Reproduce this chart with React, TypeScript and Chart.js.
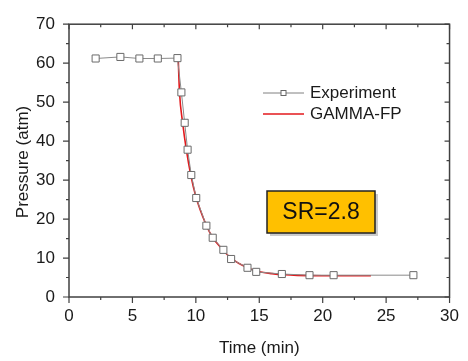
import React, { useEffect, useRef } from "react";
import { Chart, registerables } from "chart.js";

Chart.register(...registerables);

const expTime = [2.1, 4.05, 5.55, 7.0, 8.55, 8.86, 9.12, 9.35, 9.64, 10.03, 10.83, 11.33, 12.17, 12.78, 14.07, 14.76, 16.78, 18.96, 20.86, 27.15];
const expPressure = [61.2, 61.6, 61.2, 61.2, 61.3, 52.5, 44.7, 37.8, 31.3, 25.4, 18.3, 15.2, 12.1, 9.75, 7.5, 6.45, 5.9, 5.6, 5.6, 5.6];

const fitTime = [8.62, 8.71, 8.96, 9.25, 9.6, 10.0, 10.8, 11.3, 12.1, 12.8, 14.0, 15.0, 16.0, 17.0, 18.0, 20.0, 22.0, 23.8];
const fitPressure = [60.3, 52.6, 44.7, 37.8, 31.3, 25.8, 18.6, 15.4, 12.2, 9.9, 7.6, 6.5, 6.0, 5.7, 5.55, 5.45, 5.45, 5.45];

const xTicks = [0, 5, 10, 15, 20, 25, 30];
const yTicks = [0, 10, 20, 30, 40, 50, 60, 70];
const xMinorTicks = [2.5, 7.5, 12.5, 17.5, 22.5, 27.5];
const yMinorTicks = [5, 15, 25, 35, 45, 55, 65];

const seriesNames = ["Experiment", "GAMMA-FP"];
const annotationText = "SR=2.8";
const xTitle = "Time (min)";
const yTitle = "Pressure (atm)";

const FONT = "'Liberation Sans', Arial, sans-serif";
const AXIS_COLOR = "#404040";

const framePlugin = {
  id: "frameAndDecor",
  afterDraw(chart: any) {
    const { ctx, chartArea } = chart;
    const xs = chart.scales.x;
    const ys = chart.scales.y;
    const { left, right, top, bottom } = chartArea;
    ctx.save();
    ctx.strokeStyle = AXIS_COLOR;
    ctx.lineWidth = 1.5;
    ctx.strokeRect(left, top, right - left, bottom - top);
    ctx.lineWidth = 1.2;
    ctx.beginPath();
    const tickX = (v: number, len: number, inLen: number) => {
      const px = xs.getPixelForValue(v);
      ctx.moveTo(px, bottom);
      ctx.lineTo(px, bottom + len);
      ctx.moveTo(px, top);
      ctx.lineTo(px, top + inLen);
    };
    const tickY = (v: number, len: number, inLen: number) => {
      const py = ys.getPixelForValue(v);
      ctx.moveTo(left, py);
      ctx.lineTo(left - len, py);
      ctx.moveTo(right, py);
      ctx.lineTo(right - inLen, py);
    };
    xTicks.forEach((v) => tickX(v, 6, 5));
    xMinorTicks.forEach((v) => tickX(v, 3, 3));
    yTicks.forEach((v) => tickY(v, 6, 5));
    yMinorTicks.forEach((v) => tickY(v, 3, 3));
    ctx.stroke();

    // y axis title
    ctx.save();
    ctx.translate(23, 162);
    ctx.rotate(-Math.PI / 2);
    ctx.fillStyle = "#1a1a1a";
    ctx.font = `17px ${FONT}`;
    ctx.textAlign = "center";
    ctx.textBaseline = "middle";
    ctx.fillText(yTitle, 0, 0);
    ctx.restore();

    // legend
    const lx0 = 263, lx1 = 304, tx = 310;
    const ly = [93, 114];
    ctx.lineWidth = 1;
    ctx.strokeStyle = "#808080";
    ctx.beginPath();
    ctx.moveTo(lx0, ly[0]);
    ctx.lineTo(lx1, ly[0]);
    ctx.stroke();
    ctx.fillStyle = "#ffffff";
    ctx.strokeStyle = "#666666";
    ctx.fillRect(283.5 - 2.5, ly[0] - 2.5, 5, 5);
    ctx.strokeRect(283.5 - 2.5, ly[0] - 2.5, 5, 5);
    ctx.strokeStyle = "#e3191c";
    ctx.lineWidth = 1.6;
    ctx.beginPath();
    ctx.moveTo(lx0, ly[1]);
    ctx.lineTo(lx1, ly[1]);
    ctx.stroke();
    ctx.fillStyle = "#1a1a1a";
    ctx.font = `17px ${FONT}`;
    ctx.textBaseline = "middle";
    ctx.textAlign = "left";
    ctx.fillText(seriesNames[0], tx, ly[0]);
    ctx.fillText(seriesNames[1], tx, ly[1]);

    // SR annotation box
    const bx = 267, by = 191, bw = 108, bh = 42;
    ctx.fillStyle = "rgba(140,140,140,0.45)";
    ctx.fillRect(bx + 3, by + 3, bw, bh);
    ctx.fillStyle = "#FFC000";
    ctx.fillRect(bx, by, bw, bh);
    ctx.strokeStyle = "#222222";
    ctx.lineWidth = 1.5;
    ctx.strokeRect(bx, by, bw, bh);
    ctx.fillStyle = "#111111";
    ctx.font = `23px ${FONT}`;
    ctx.textAlign = "center";
    ctx.textBaseline = "middle";
    ctx.fillText(annotationText, bx + bw / 2, by + bh / 2 + 1);
    ctx.restore();
  },
};

export default function App() {
  const ref = useRef<HTMLCanvasElement | null>(null);
  useEffect(() => {
    if (!ref.current) return;
    const chart = new Chart(ref.current, {
      type: "scatter",
      data: {
        datasets: [
          {
            label: seriesNames[1],
            data: fitTime.map((t, i) => ({ x: t, y: fitPressure[i] })),
            showLine: true,
            borderColor: "#e3191c",
            borderWidth: 1.6,
            pointRadius: 0,
            cubicInterpolationMode: "monotone",
            order: 2,
          },
          {
            label: seriesNames[0],
            data: expTime.map((t, i) => ({ x: t, y: expPressure[i] })),
            showLine: true,
            borderColor: "#8a8a8a",
            borderWidth: 1,
            pointStyle: "rect",
            pointRadius: 5,
            pointBackgroundColor: "#ffffff",
            pointBorderColor: "#6a6a6a",
            pointBorderWidth: 1,
            order: 1,
          },
        ],
      },
      options: {
        animation: false,
        responsive: true,
        maintainAspectRatio: false,
        layout: { padding: { left: 0, right: 14, top: 14, bottom: 0 } },
        plugins: { legend: { display: false }, tooltip: { enabled: false } },
        scales: {
          x: {
            type: "linear",
            min: 0,
            max: 30,
            afterFit: (s: any) => { s.height = 64; },
            afterBuildTicks: (s: any) => { s.ticks = xTicks.map((v) => ({ value: v })); },
            grid: { display: false, drawTicks: false },
            border: { display: false },
            ticks: { padding: 9, color: "#1a1a1a", font: { family: FONT, size: 17 } },
            title: { display: true, text: xTitle, color: "#1a1a1a", font: { family: FONT, size: 17 }, padding: { top: 0, bottom: 2 } },
          },
          y: {
            type: "linear",
            min: 0,
            max: 70,
            afterFit: (s: any) => { s.width = 69; },
            afterBuildTicks: (s: any) => { s.ticks = yTicks.map((v) => ({ value: v })); },
            grid: { display: false, drawTicks: false },
            border: { display: false },
            ticks: { padding: 14, color: "#1a1a1a", font: { family: FONT, size: 17 } },
            title: { display: false },
          },
        },
      },
      plugins: [framePlugin],
    });
    return () => chart.destroy();
  }, []);
  return (
    <div style={{ position: "fixed", left: 0, top: 0, width: 468, height: 361, background: "#fff" }}>
      <canvas ref={ref} />
    </div>
  );
}
